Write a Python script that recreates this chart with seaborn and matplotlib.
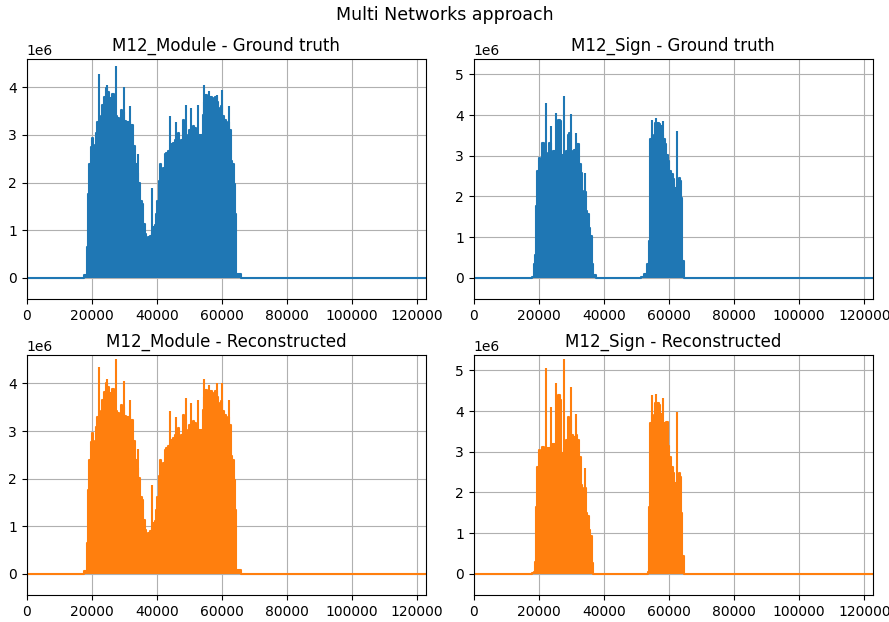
import numpy as np
import pandas as pd
import matplotlib
matplotlib.use("Agg")
import matplotlib.pyplot as plt
import seaborn as sns

X_MAX = 122600

# Body of each signal envelope: sample index where a level starts, and the level (x 1e6)
module_true_x = [0, 17500, 18480, 18890, 19300, 19710, 20010, 20320, 20730, 20930, 21240,
                 21750, 22260, 22560, 22970, 23280, 23790, 24300, 24810, 25320, 25620,
                 25830, 26340, 26850, 27360, 27870, 28380, 28890, 29400, 29910, 30420,
                 30930, 31640, 32150, 32760, 33270, 33780, 34290, 34800, 35310, 35820,
                 36330, 36740, 37250, 37760, 38370, 38880, 39290, 39600, 40110, 40620,
                 41130, 41430, 41840, 42450, 42860, 43470, 43980, 44390, 44900, 45510,
                 46020, 46430, 46940, 47450, 48060, 48470, 48880, 49290, 49800, 50510,
                 51020, 51530, 52040, 52650, 53160, 53570, 53780, 54080, 54490, 54900,
                 55410, 55920, 56430, 56940, 57450, 57960, 58470, 58770, 59180, 59590,
                 60100, 60510, 60920, 61220, 61730, 62240, 62750, 63260, 63770, 64080,
                 64380, 66000, X_MAX]
module_true_h = [0.0, 0.05, 0.64, 1.75, 2.38, 2.75, 2.93, 2.79, 2.62, 2.70, 3.05,
                 3.28, 3.30, 3.11, 3.40, 3.63, 3.80, 3.98, 3.90, 3.77, 2.93,
                 3.77, 3.87, 2.69, 3.40, 3.35, 3.14, 3.52, 3.49, 3.30, 3.21,
                 3.28, 3.20, 3.21, 2.76, 2.38, 2.20, 2.00, 1.61, 1.54, 1.13,
                 0.92, 0.32, 0.85, 0.88, 0.95, 1.06, 1.10, 1.33, 1.61, 2.03,
                 2.38, 2.27, 2.31, 2.59, 2.63, 2.66, 2.70, 2.80, 2.83, 2.90,
                 2.90, 3.04, 2.83, 2.90, 3.32, 3.21, 3.00, 2.86, 3.11, 3.10,
                 3.18, 3.14, 3.00, 3.00, 2.97, 3.00, 2.52, 3.42, 3.70, 3.84,
                 3.77, 3.80, 3.80, 3.74, 3.77, 3.80, 3.70, 3.56, 3.35, 3.60,
                 3.40, 3.32, 3.32, 3.07, 3.28, 3.10, 2.45, 2.38, 1.96, 1.33,
                 0.08, 0.0, 0.0]
module_true_spike_x = [22260, 24810, 27360, 29910, 31640, 34290, 38370, 43980, 46020,
                       48880, 50510, 52650, 54490, 55920, 58470, 60100, 62240]
module_true_spike_h = [4.29, 4.05, 4.44, 4.01, 3.60, 2.59, 1.89, 3.39, 3.28,
                       3.64, 3.57, 3.64, 4.05, 3.93, 3.84, 3.94, 3.60]

module_rec_x = module_true_x
module_rec_h = [0.0, 0.05, 0.64, 1.76, 2.40, 2.77, 2.95, 2.80, 2.64, 2.72, 3.08,
                3.30, 3.32, 3.12, 3.42, 3.65, 3.82, 4.00, 3.92, 3.79, 2.95,
                3.79, 3.89, 2.70, 3.42, 3.37, 3.16, 3.54, 3.51, 3.32, 3.23,
                3.30, 3.22, 3.23, 2.78, 2.40, 2.22, 2.02, 1.62, 1.55, 1.14,
                0.93, 0.32, 0.86, 0.89, 0.96, 1.07, 1.11, 1.34, 1.62, 2.05,
                2.40, 2.29, 2.33, 2.61, 2.65, 2.68, 2.72, 2.82, 2.85, 2.92,
                2.92, 3.06, 2.85, 2.92, 3.34, 3.23, 3.02, 2.88, 3.13, 3.12,
                3.20, 3.16, 3.02, 3.02, 2.99, 3.02, 2.54, 3.45, 3.72, 3.87,
                3.80, 3.83, 3.83, 3.77, 3.80, 3.83, 3.72, 3.58, 3.37, 3.63,
                3.42, 3.34, 3.34, 3.09, 3.30, 3.12, 2.47, 2.40, 1.98, 1.34,
                0.08, 0.0, 0.0]
module_rec_spike_x = module_true_spike_x
module_rec_spike_h = [4.35, 4.10, 4.52, 4.05, 3.65, 2.62, 1.87, 3.42, 3.30,
                      3.69, 3.59, 3.66, 4.10, 3.96, 4.00, 4.00, 3.65]

sign_true_x = [0, 17800, 18470, 18780, 19190, 19500, 20010, 20310, 20520, 21030, 21540,
               22260, 22670, 23070, 23590, 23890, 24300, 25120, 25430, 25940, 26350,
               26750, 27170, 27570, 27980, 28390, 28900, 29310, 29930, 30330, 30740,
               31250, 31770, 32270, 32790, 33300, 33710, 34110, 34530, 34930, 35340,
               35850, 36260, 36670, 37500, 51500, 52210, 53230, 53740, 54050, 54260,
               54660, 55070, 55580, 56000, 56400, 56810, 57320, 57830, 58240, 58650,
               59160, 59680, 60080, 60600, 61100, 61620, 62130, 62540, 62940, 63250,
               63660, 64070, 64480, X_MAX]
sign_true_h = [0.0, 0.03, 0.33, 0.57, 1.76, 2.62, 2.95, 2.62, 2.70, 3.32, 3.03,
               3.00, 3.07, 3.32, 3.10, 2.87, 3.11, 3.10, 2.95, 3.89, 3.85,
               2.70, 3.03, 3.00, 2.87, 3.11, 3.52, 3.56, 3.10, 3.11, 3.15,
               3.20, 3.28, 2.79, 2.58, 2.05, 2.13, 2.10, 1.64, 1.56, 1.23,
               1.02, 0.33, 0.08, 0.0, 0.02, 0.10, 0.33, 0.90, 2.79, 3.40,
               3.50, 3.44, 3.81, 3.80, 3.81, 3.77, 3.73, 3.52, 3.40, 3.28,
               3.03, 2.87, 2.62, 2.54, 2.42, 2.21, 2.13, 2.30, 2.46, 2.38,
               1.97, 0.41, 0.0, 0.0]
sign_true_spike_x = [22260, 23590, 25120, 27570, 29930, 31250, 34110,
                     54660, 56000, 58240, 62540]
sign_true_spike_h = [4.30, 3.73, 4.06, 4.47, 4.02, 3.57, 2.58,
                     3.89, 3.93, 3.85, 3.61]

sign_rec_x = [0, 17800, 18470, 18780, 19190, 19500, 20010, 20310, 20520, 21030, 21540,
              22260, 22670, 23070, 23590, 23890, 24300, 25120, 25430, 25940, 26350,
              26750, 27170, 27570, 27980, 28390, 28900, 29310, 29930, 30330, 30740,
              31250, 31770, 32270, 32790, 33300, 33710, 34110, 34530, 34930, 35340,
              35850, 36260, 36670, 53500, 53740, 54050, 54260,
              54660, 55070, 55580, 56000, 56400, 56810, 57320, 57830, 58240, 58650,
              59160, 59680, 60080, 60600, 61100, 61620, 62130, 62540, 62940, 63250,
              63660, 64070, 64480, X_MAX]
sign_rec_h = [0.0, 0.02, 0.05, 0.30, 1.65, 2.63, 3.04, 2.63, 2.88, 3.12, 2.88,
              3.10, 2.88, 3.08, 3.20, 3.04, 3.20, 3.20, 3.12, 4.39, 4.27,
              2.72, 2.96, 3.10, 2.79, 3.29, 3.86, 3.78, 3.40, 3.29, 3.37,
              3.40, 3.29, 2.88, 2.19, 2.06, 2.10, 2.10, 1.49, 1.41, 1.08,
              0.92, 0.27, 0.0, 0.05, 1.65, 3.66, 3.70,
              3.90, 3.78, 4.19, 4.20, 4.19, 4.15, 3.94, 3.78, 3.70, 3.53,
              3.74, 3.13, 2.88, 2.63, 2.47, 2.23, 2.14, 2.30, 2.47, 2.39,
              1.49, 0.43, 0.0, 0.0]
sign_rec_spike_x = sign_true_spike_x
sign_rec_spike_h = [5.05, 4.10, 4.68, 5.29, 4.60, 3.94, 2.59,
                    4.39, 4.43, 4.31, 3.98]

BLUE = "#1f77b4"
ORANGE = "#ff7f0e"

panels = [
    ("M12_Module - Ground truth", module_true_x, module_true_h,
     module_true_spike_x, module_true_spike_h, BLUE),
    ("M12_Sign - Ground truth", sign_true_x, sign_true_h,
     sign_true_spike_x, sign_true_spike_h, BLUE),
    ("M12_Module - Reconstructed", module_rec_x, module_rec_h,
     module_rec_spike_x, module_rec_spike_h, ORANGE),
    ("M12_Sign - Reconstructed", sign_rec_x, sign_rec_h,
     sign_rec_spike_x, sign_rec_spike_h, ORANGE),
]
ylims = [(-0.445e6, 4.59e6), (-0.52e6, 5.37e6)]

fig, axes = plt.subplots(2, 2, figsize=(8.89, 6.22), dpi=100)
fig.subplots_adjust(left=0.030, right=0.9817, top=0.9047, bottom=0.0434,
                    wspace=0.121, hspace=0.235)

for i, (ax, (title, xs, hs, sx, sh, color)) in enumerate(zip(axes.flat, panels)):
    df = pd.DataFrame({"sample": xs, "amplitude": np.asarray(hs) * 1e6})
    ax.fill_between(df["sample"], 0, df["amplitude"], step="post",
                    color=color, linewidth=0)
    sns.lineplot(data=df, x="sample", y="amplitude", ax=ax, color=color,
                 linewidth=1.5, drawstyle="steps-post", estimator=None, sort=False)
    ax.vlines(sx, 0, np.asarray(sh) * 1e6, color=color, linewidth=1.5)
    ax.set_title(title, fontsize=12)
    ax.set_xlabel("")
    ax.set_ylabel("")
    ax.set_axisbelow(True)
    ax.grid(True)
    ax.set_xlim(0, X_MAX)
    ax.set_ylim(*ylims[i % 2])

fig.suptitle("Multi Networks approach", fontsize=12.5, y=0.99, va="top")
fig.savefig("out.png", dpi=100)
